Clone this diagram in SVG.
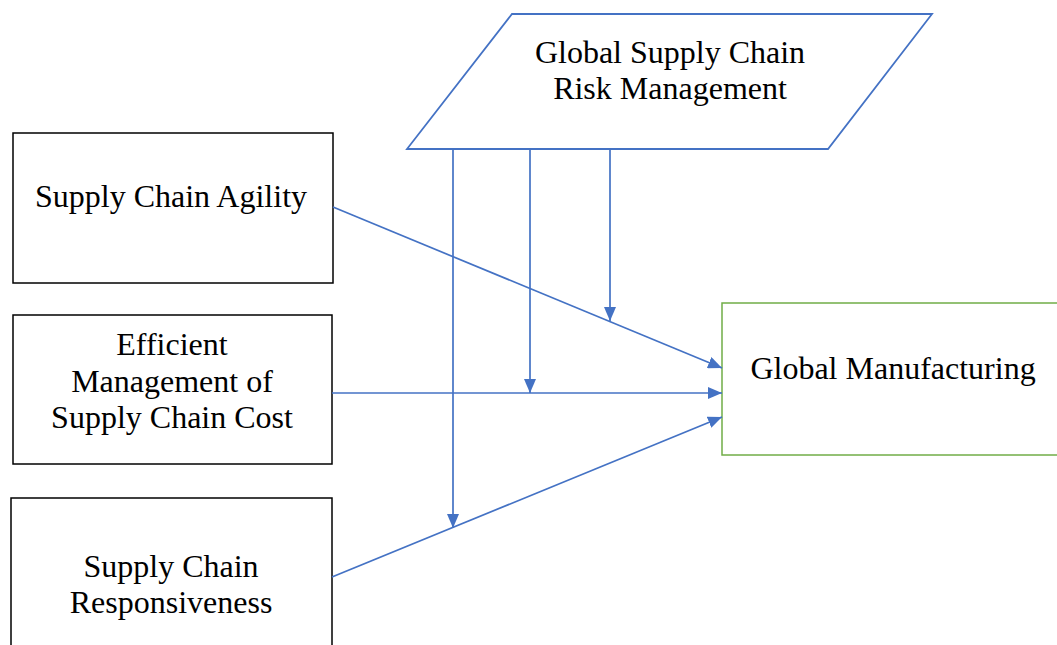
<svg xmlns="http://www.w3.org/2000/svg" width="1057" height="645" viewBox="0 0 1057 645">
<defs>
<style>
.box{fill:#fff;stroke:#000;stroke-width:1.5}
.risk{fill:#fff;stroke:#4472C4;stroke-width:1.8}
.out{fill:#fff;stroke:#70AD47;stroke-width:1.5}
.t{font-family:"Liberation Serif","Times New Roman",serif;font-size:32px;fill:#000;text-anchor:middle}
.c{stroke:#4472C4;stroke-width:1.7;fill:none;marker-end:url(#ah)}
</style>
<marker id="ah" viewBox="0 0 14 12" refX="14" refY="6" markerWidth="14" markerHeight="12" markerUnits="userSpaceOnUse" orient="auto">
<path d="M0,0 L14,6 L0,12 Z" fill="#4472C4"/>
</marker>
</defs>
<rect width="1057" height="645" fill="#fff"/>
<g id="risk">
<polygon class="risk" points="512,14 932,14 828,149 407,149"/>
<text class="t" x="670" y="63">Global Supply Chain</text>
<text class="t" x="670" y="99">Risk Management</text>
</g>
<g id="agility">
<rect class="box" x="13" y="133" width="320" height="150"/>
<text class="t" x="171" y="207">Supply Chain Agility</text>
</g>
<g id="cost">
<rect class="box" x="13" y="315" width="319" height="149"/>
<text class="t" x="172" y="355">Efficient</text>
<text class="t" x="172" y="392">Management of</text>
<text class="t" x="172" y="428">Supply Chain Cost</text>
</g>
<g id="responsiveness">
<rect class="box" x="11" y="498" width="321" height="160"/>
<text class="t" x="171" y="577">Supply Chain</text>
<text class="t" x="171" y="613">Responsiveness</text>
</g>
<g id="manufacturing">
<rect class="out" x="722" y="303" width="340" height="152"/>
<text class="t" x="893" y="379">Global Manufacturing</text>
</g>
<g id="connectors">
<line class="c" x1="333" y1="207" x2="722" y2="368"/>
<line class="c" x1="332" y1="393" x2="722" y2="393"/>
<line class="c" x1="332" y1="577" x2="722" y2="417"/>
<line class="c" x1="610" y1="149" x2="610" y2="321"/>
<line class="c" x1="530" y1="149" x2="530" y2="393"/>
<line class="c" x1="453" y1="149" x2="453" y2="528"/>
</g>
</svg>
